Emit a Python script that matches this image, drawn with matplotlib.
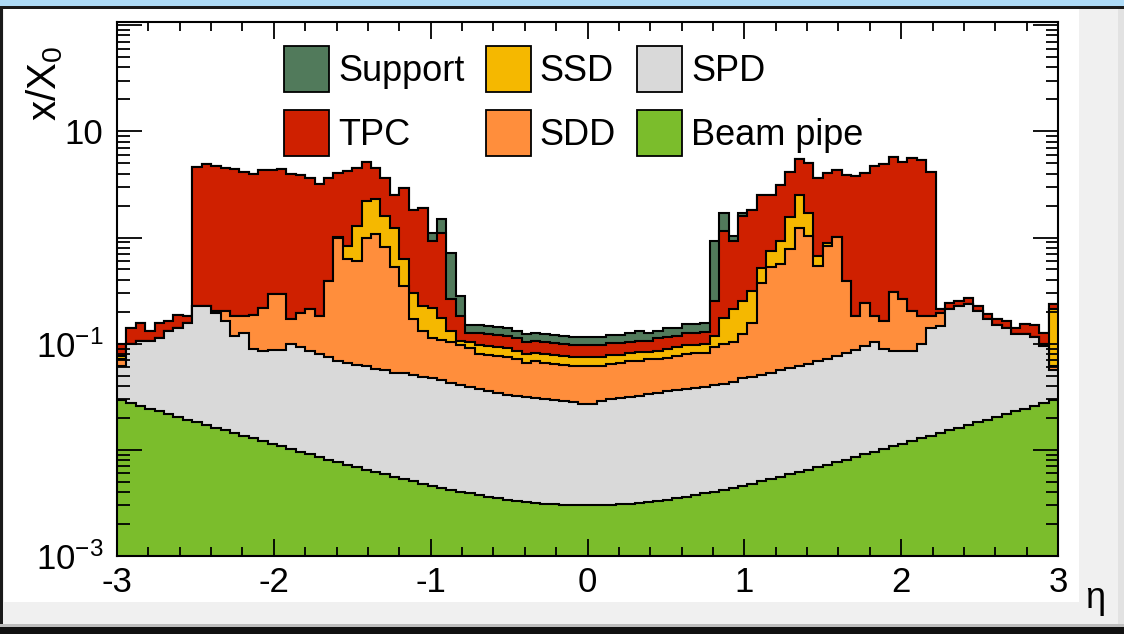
import numpy as np
import matplotlib
matplotlib.use('Agg')
import matplotlib.pyplot as plt
from matplotlib.patches import Rectangle, Patch
from matplotlib.ticker import MultipleLocator, LogLocator, NullFormatter

plt.rcParams['font.family'] = 'Liberation Sans'
plt.rcParams['mathtext.fontset'] = 'custom'
plt.rcParams['mathtext.rm'] = 'Liberation Sans'
plt.rcParams['mathtext.it'] = 'Liberation Sans:italic'
plt.rcParams['mathtext.default'] = 'rm'
plt.rcParams['axes.unicode_minus'] = False

# binning in pseudorapidity
eta_min, eta_max, n_bins = -3.0, 3.0, 100

# stacked x/X0: value of the stack up to (and incl.) each layer
upto_beam_pipe = [
    0.0293, 0.0276, 0.0260, 0.0245, 0.0231, 0.0218, 0.0205, 0.0193, 0.0182, 0.0172,
    0.0162, 0.0153, 0.0144, 0.0136, 0.0128, 0.0121, 0.0114, 0.0108, 0.0102, 0.00959,
    0.00906, 0.00857, 0.00810, 0.00766, 0.00725, 0.00687, 0.00651, 0.00617, 0.00586, 0.00557,
    0.00530, 0.00505, 0.00481, 0.00460, 0.00440, 0.00421, 0.00404, 0.00388, 0.00374, 0.00362,
    0.00350, 0.00340, 0.00331, 0.00323, 0.00316, 0.00311, 0.00307, 0.00303, 0.00301, 0.00300,
    0.00300, 0.00301, 0.00303, 0.00307, 0.00311, 0.00316, 0.00323, 0.00331, 0.00340, 0.00350,
    0.00362, 0.00374, 0.00388, 0.00404, 0.00421, 0.00440, 0.00460, 0.00481, 0.00505, 0.00530,
    0.00557, 0.00586, 0.00617, 0.00651, 0.00687, 0.00725, 0.00766, 0.00810, 0.00857, 0.00906,
    0.00959, 0.0102, 0.0108, 0.0114, 0.0121, 0.0128, 0.0136, 0.0144, 0.0153, 0.0162,
    0.0172, 0.0182, 0.0193, 0.0205, 0.0218, 0.0231, 0.0245, 0.0260, 0.0276, 0.0293,
]
upto_spd = [
    0.062, 0.100, 0.107, 0.107, 0.114, 0.133, 0.142, 0.158, 0.228, 0.228,
    0.196, 0.165, 0.119, 0.127, 0.090, 0.086, 0.088, 0.088, 0.100, 0.094,
    0.086, 0.080, 0.075, 0.069, 0.066, 0.063, 0.061, 0.058, 0.056, 0.053,
    0.053, 0.051, 0.049, 0.047, 0.045, 0.043, 0.041, 0.039, 0.0376, 0.036,
    0.0345, 0.033, 0.0323, 0.0316, 0.0309, 0.0303, 0.0296, 0.029, 0.0284, 0.0272,
    0.0272, 0.029, 0.0303, 0.0309, 0.0316, 0.0323, 0.0338, 0.0345, 0.036, 0.0368,
    0.0376, 0.0385, 0.039, 0.041, 0.042, 0.044, 0.047, 0.049, 0.051, 0.053,
    0.056, 0.059, 0.062, 0.065, 0.068, 0.072, 0.077, 0.082, 0.088, 0.096,
    0.104, 0.090, 0.086, 0.086, 0.086, 0.100, 0.139, 0.148, 0.214, 0.228,
    0.238, 0.205, 0.172, 0.151, 0.142, 0.124, 0.124, 0.116, 0.096, 0.056,
]
upto_sdd = [
    0.072, 0.100, 0.107, 0.107, 0.114, 0.133, 0.142, 0.158, 0.228, 0.228,
    0.205, 0.205, 0.184, 0.184, 0.188, 0.218, 0.296, 0.296, 0.172, 0.196,
    0.214, 0.184, 0.393, 0.98, 0.634, 0.607, 0.98, 1.07, 0.822, 0.533,
    0.352, 0.172, 0.133, 0.114, 0.109, 0.104, 0.098, 0.092, 0.080, 0.079,
    0.077, 0.075, 0.071, 0.066, 0.068, 0.066, 0.065, 0.063, 0.062, 0.061,
    0.061, 0.062, 0.065, 0.066, 0.068, 0.069, 0.071, 0.072, 0.074, 0.077,
    0.080, 0.082, 0.082, 0.094, 0.100, 0.104, 0.124, 0.158, 0.376, 0.533,
    0.568, 0.787, 1.22, 1.04, 0.544, 0.840, 1.02, 0.393, 0.184, 0.243,
    0.184, 0.165, 0.309, 0.266, 0.205, 0.184, 0.184, 0.196, 0.214, 0.228,
    0.238, 0.205, 0.172, 0.151, 0.142, 0.124, 0.124, 0.116, 0.100, 0.062,
]
upto_ssd = [
    0.077, 0.100, 0.107, 0.107, 0.114, 0.133, 0.142, 0.158, 0.228, 0.228,
    0.205, 0.205, 0.184, 0.184, 0.188, 0.218, 0.296, 0.296, 0.172, 0.196,
    0.214, 0.184, 0.393, 1.02, 0.840, 1.27, 2.23, 2.33, 1.58, 1.22,
    0.634, 0.303, 0.228, 0.218, 0.176, 0.133, 0.107, 0.104, 0.098, 0.096,
    0.094, 0.092, 0.086, 0.080, 0.082, 0.080, 0.079, 0.077, 0.075, 0.075,
    0.075, 0.075, 0.079, 0.079, 0.082, 0.084, 0.084, 0.086, 0.090, 0.094,
    0.098, 0.098, 0.100, 0.119, 0.176, 0.214, 0.254, 0.316, 0.52, 0.754,
    0.937, 1.55, 2.49, 1.72, 0.676, 0.879, 1.02, 0.393, 0.184, 0.243,
    0.184, 0.165, 0.309, 0.266, 0.205, 0.184, 0.184, 0.196, 0.214, 0.228,
    0.238, 0.205, 0.172, 0.151, 0.142, 0.124, 0.124, 0.116, 0.100, 0.214,
]
upto_tpc = [
    0.100, 0.139, 0.158, 0.133, 0.158, 0.165, 0.188, 0.184, 4.57, 4.88,
    4.68, 4.48, 4.38, 4.10, 3.93, 4.29, 4.29, 4.38, 3.93, 3.85,
    3.60, 3.16, 3.60, 4.02, 4.20, 4.48, 5.10, 4.48, 3.60, 2.49,
    2.90, 1.80, 1.88, 0.937, 1.11, 0.266, 0.184, 0.127, 0.127, 0.124,
    0.122, 0.119, 0.112, 0.104, 0.107, 0.104, 0.102, 0.100, 0.098, 0.098,
    0.098, 0.098, 0.102, 0.102, 0.104, 0.107, 0.107, 0.112, 0.116, 0.119,
    0.127, 0.127, 0.130, 0.254, 1.16, 0.937, 1.58, 1.80, 2.49, 2.49,
    3.09, 4.10, 5.44, 4.99, 3.60, 4.02, 4.29, 3.85, 3.76, 4.02,
    4.68, 4.88, 5.68, 5.10, 5.56, 5.33, 4.10, 0.214, 0.243, 0.254,
    0.272, 0.228, 0.192, 0.172, 0.165, 0.142, 0.154, 0.151, 0.127, 0.238,
]
upto_support = [
    0.100, 0.139, 0.158, 0.133, 0.158, 0.165, 0.188, 0.184, 4.57, 4.88,
    4.68, 4.48, 4.38, 4.10, 3.93, 4.29, 4.29, 4.38, 3.93, 3.85,
    3.60, 3.16, 3.60, 4.02, 4.20, 4.48, 5.10, 4.48, 3.60, 2.49,
    2.90, 1.80, 1.88, 1.11, 1.51, 0.722, 0.284, 0.151, 0.151, 0.148,
    0.145, 0.142, 0.133, 0.124, 0.127, 0.124, 0.122, 0.119, 0.116, 0.116,
    0.116, 0.116, 0.122, 0.122, 0.127, 0.133, 0.127, 0.133, 0.139, 0.142,
    0.154, 0.154, 0.158, 0.937, 1.69, 1.04, 1.69, 1.80, 2.49, 2.49,
    3.09, 4.10, 5.44, 4.99, 3.60, 4.02, 4.29, 3.85, 3.76, 4.02,
    4.68, 4.88, 5.68, 5.10, 5.56, 5.33, 4.10, 0.214, 0.243, 0.254,
    0.272, 0.228, 0.192, 0.172, 0.165, 0.142, 0.154, 0.151, 0.127, 0.238,
]

# colours, ROOT-ish
support_color = '#517A5B'
tpc_color = '#CF2000'
ssd_color = '#F5B800'
sdd_color = '#FF8E3C'
spd_color = '#D9D9D9'
beam_color = '#7BBD2C'

W, H = 1124, 634
fig = plt.figure(figsize=(W / 100, H / 100), dpi=100)
fig.patch.set_facecolor('#F0F0F0')

# window frame around the canvas
def px_rect(x0, y0, x1, y1, color):
    fig.add_artist(Rectangle((x0 / W, 1 - y1 / H), (x1 - x0) / W, (y1 - y0) / H,
                             transform=fig.transFigure, facecolor=color,
                             edgecolor='none', zorder=0))

px_rect(4, 9, 1079, 602, 'white')
px_rect(0, 0, W, 6, '#AEDBF7')
px_rect(0, 6, W, 9, '#1A1A1A')
px_rect(0, 9, 3, H, '#1A1A1A')
px_rect(0, 624, W, 627, '#BDBDBD')
px_rect(0, 627, W, H, '#111111')
px_rect(1118, 9, W, 624, '#E2E2E2')

ax = fig.add_axes([117 / W, 1 - 556 / H, 941 / W, 534 / H])
ax.set_facecolor('white')

edges = np.linspace(eta_min, eta_max, n_bins + 1)
ymin, ymax = 1e-3, 10 ** 2.03

# top layer first, each lower layer painted over it
layers = [
    ('Support', upto_support, support_color),
    ('TPC', upto_tpc, tpc_color),
    ('SSD', upto_ssd, ssd_color),
    ('SDD', upto_sdd, sdd_color),
    ('SPD', upto_spd, spd_color),
    ('Beam pipe', upto_beam_pipe, beam_color),
]
for name, top, color in layers:
    ax.stairs(top, edges, baseline=1e-5, fill=True, facecolor=color, edgecolor='none')
    ax.stairs(top, edges, baseline=None, color='black', linewidth=1.5)

ax.set_xlim(eta_min, eta_max)
ax.set_yscale('log')

ax.xaxis.set_major_locator(MultipleLocator(1))
ax.xaxis.set_minor_locator(MultipleLocator(0.2))
ax.set_yticks([1e-3, 1e-2, 1e-1, 1, 10, 100])
ax.set_yticklabels([r'$10^{-3}$', '', r'$10^{-1}$', '', '10', ''])
ax.yaxis.set_minor_locator(LogLocator(base=10, subs=np.arange(2, 10), numticks=30))
ax.yaxis.set_minor_formatter(NullFormatter())
ax.set_ylim(ymin, ymax)

ax.tick_params(which='both', direction='in', top=True, right=True, width=1.3)
ax.tick_params(axis='x', which='major', length=12, pad=7, labelsize=25)
ax.tick_params(axis='x', which='minor', length=6.5)
ax.tick_params(axis='y', which='major', length=18, pad=10, labelsize=25)
ax.tick_params(axis='y', which='minor', length=9)
for s in ax.spines.values():
    s.set_linewidth(1.5)

ax.text(-0.0765, 0.955, r'x/X$_0$', transform=ax.transAxes, rotation=90,
        ha='center', va='top', fontsize=29)
fig.text(1095 / W, 1 - 598 / H, 'η', ha='center', va='center', fontsize=26)

handles = [Patch(facecolor=c, edgecolor='black', linewidth=1.3, label=n) for n, _, c in layers]
ax.legend(handles=handles, ncol=3, loc='upper left', bbox_to_anchor=(0.1775, 0.955),
          frameon=False, fontsize=26, handlelength=1.25, handleheight=1.58,
          handletextpad=0.25, columnspacing=0.58, labelspacing=0.5,
          borderpad=0, borderaxespad=0)

fig.savefig('out.png', dpi=100)
